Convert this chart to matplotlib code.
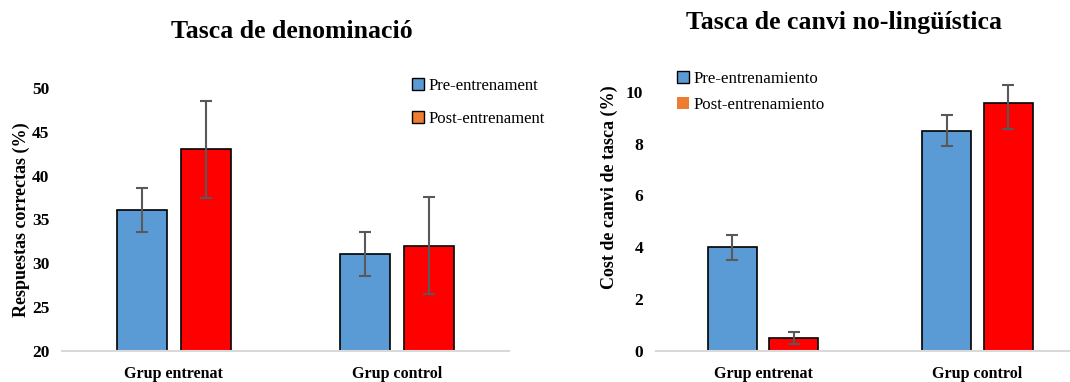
import matplotlib
matplotlib.use("Agg")
import matplotlib.pyplot as plt
from matplotlib.patches import Patch
import numpy as np

plt.rcParams['font.family'] = ['Liberation Serif', 'DejaVu Serif']

groups = ['Grup entrenat', 'Grup control']

# Tasca de denominació
den_pre = [36.1, 31.1]
den_pre_err = [2.5, 2.5]
den_post = [43.0, 32.0]
den_post_err = [5.5, 5.55]

# Tasca de canvi no-lingüística
canvi_pre = [4.0, 8.5]
canvi_pre_err = [0.48, 0.6]
canvi_post = [0.5, 9.55]
canvi_post_err_low = [0.25, 1.0]
canvi_post_err_high = [0.25, 0.7]

blue = '#5B9BD5'
red = '#FF0000'
orange = '#ED7D31'
errc = '#595959'


def draw_bars(ax, pre, pre_err, post, post_err, off=0.143, w=0.225):
    x = np.arange(len(groups))
    ax.bar(x - off, pre, w, color=blue, edgecolor='black', linewidth=1.2, zorder=2)
    ax.bar(x + off, post, w, color=red, edgecolor='black', linewidth=1.2, zorder=2)
    ax.errorbar(x - off, pre, yerr=pre_err, fmt='none', ecolor=errc,
                elinewidth=1.5, capsize=4, capthick=1.5, zorder=3)
    ax.errorbar(x + off, post, yerr=post_err, fmt='none', ecolor=errc,
                elinewidth=1.5, capsize=4, capthick=1.5, zorder=3)
    ax.set_xticks(x)
    ax.set_xticklabels(groups, fontsize=11.5, fontweight='bold')
    ax.set_xlim(-0.5, 1.5)
    for s in ['top', 'right', 'left']:
        ax.spines[s].set_visible(False)
    ax.spines['bottom'].set_color('#D9D9D9')
    ax.spines['bottom'].set_linewidth(1.5)
    ax.tick_params(length=0)
    ax.tick_params(axis='y', labelsize=12.5, pad=9)
    ax.tick_params(axis='x', pad=11)
    for t in ax.get_yticklabels():
        t.set_fontweight('bold')


fig = plt.figure(figsize=(10.7, 3.82), dpi=100)

ax1 = fig.add_axes([0.0579, 0.0812, 0.4178, 0.6885])
ax1.set_ylim(20, 50)
ax1.set_yticks(range(20, 51, 5))
draw_bars(ax1, den_pre, den_pre_err, den_post, den_post_err)
ax1.set_ylabel('Respuestas correctas (%)', fontsize=13, fontweight='bold')
ax1.yaxis.set_label_coords(-0.072, 0.5)

ax2 = fig.add_axes([0.6128, 0.0812, 0.401, 0.7128])
ax2.set_ylim(0, 10.5)
ax2.set_yticks(range(0, 11, 2))
draw_bars(ax2, canvi_pre, canvi_pre_err, canvi_post,
          [canvi_post_err_low, canvi_post_err_high], off=0.144, w=0.228)
ax2.set_ylabel('Cost de canvi de tasca (%)', fontsize=13, fontweight='bold')
ax2.yaxis.set_label_coords(-0.089, 0.603)

fig.text(292 / 1070, 1 - 32 / 382, 'Tasca de denominació', ha='center', va='center',
         fontsize=18.5, fontweight='bold')
fig.text(844 / 1070, 1 - 23 / 382, 'Tasca de canvi no-lingüística', ha='center', va='center',
         fontsize=18.5, fontweight='bold')

h1 = [Patch(facecolor=blue, edgecolor='black', linewidth=1),
      Patch(facecolor=orange, edgecolor='black', linewidth=1)]
ax1.legend(h1, ['Pre-entrenament', 'Post-entrenament'], loc='upper left',
           bbox_to_anchor=(412 / 1070, 1 - 78 / 382), bbox_transform=fig.transFigure,
           frameon=False, fontsize=12, handlelength=0.7, handleheight=0.7,
           handletextpad=0.3, labelspacing=1.0, borderpad=0, borderaxespad=0)

h2 = [Patch(facecolor=blue, edgecolor='black', linewidth=1),
      Patch(facecolor=orange, edgecolor='none')]
ax2.legend(h2, ['Pre-entrenamiento', 'Post-entrenamiento'], loc='upper left',
           bbox_to_anchor=(677 / 1070, 1 - 71 / 382), bbox_transform=fig.transFigure,
           frameon=False, fontsize=12.2, handlelength=0.7, handleheight=0.7,
           handletextpad=0.3, labelspacing=0.6, borderpad=0, borderaxespad=0)

fig.savefig('out.png', dpi=100)
